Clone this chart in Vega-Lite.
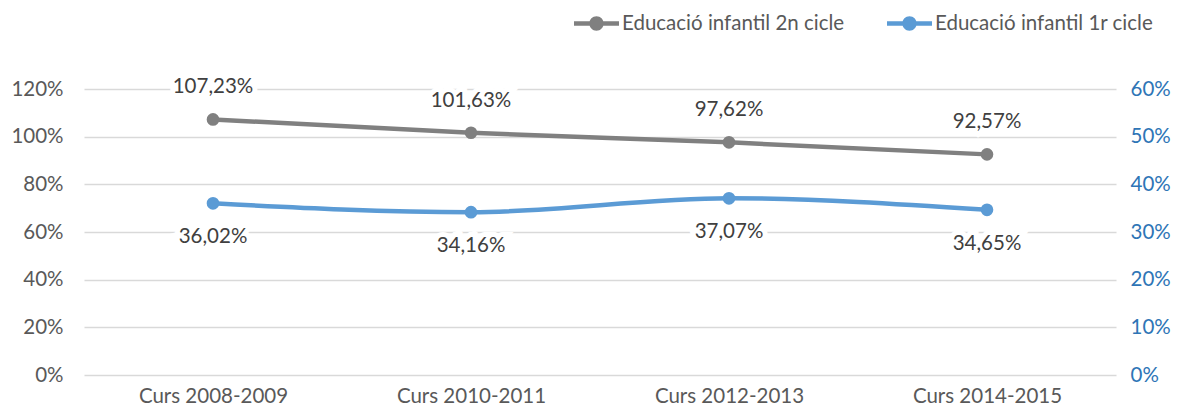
{
  "$schema": "https://vega.github.io/schema/vega-lite/v6.json",
  "width": 1032,
  "height": 286,
  "autosize": {"type": "none"},
  "padding": {"left": 84, "top": 89, "right": 65, "bottom": 39},
  "background": "white",
  "config": {
    "view": {"stroke": null},
    "font": "Lato",
    "locale": {"number": {"decimal": ",", "thousands": ".", "grouping": [3], "currency": ["", " €"]}}
  },
  "data": {"values": [
    {"curs": "Curs 2008-2009", "c2": 1.0723, "c1": 0.3602},
    {"curs": "Curs 2010-2011", "c2": 1.0163, "c1": 0.3416},
    {"curs": "Curs 2012-2013", "c2": 0.9762, "c1": 0.3707},
    {"curs": "Curs 2014-2015", "c2": 0.9257, "c1": 0.3465}
  ]},
  "encoding": {
    "x": {"field": "curs", "type": "ordinal", "scale": {"type": "point", "padding": 0.5},
      "axis": {"title": null, "labelAngle": 0, "domain": false, "ticks": false, "labelFontSize": 20.5, "labelColor": "#595959", "labelPadding": 11}}
  },
  "layer": [
    {
      "layer": [
        {"mark": {"type": "line", "strokeWidth": 4.5, "interpolate": "monotone"}},
        {"mark": {"type": "point", "filled": true, "size": 160, "opacity": 1}},
        {"mark": {"type": "text", "dy": -32, "fontSize": 20.5, "stroke": "white", "strokeWidth": 10, "fill": "white"}, "encoding": {"text": {"field": "c2", "type": "quantitative", "format": ".2%"}, "color": {"value": "white"}}},
        {"mark": {"type": "text", "dy": -32, "fontSize": 20.5, "fill": "#404040"}, "encoding": {"text": {"field": "c2", "type": "quantitative", "format": ".2%"}, "color": {"value": "#404040"}}}
      ],
      "encoding": {
        "y": {"field": "c2", "type": "quantitative", "scale": {"domain": [0, 1.2]},
          "axis": {"title": null, "orient": "left", "format": ".0%", "values": [0, 0.2, 0.4, 0.6, 0.8, 1.0, 1.2], "domain": false, "ticks": false, "labelFontSize": 20.5, "labelColor": "#595959", "labelPadding": 21, "grid": true, "gridColor": "#D9D9D9", "gridWidth": 1.5}},
        "color": {"datum": "Educació infantil 2n cicle", "type": "nominal",
          "scale": {"domain": ["Educació infantil 2n cicle", "Educació infantil 1r cicle"], "range": ["#808080", "#5B9BD5"]},
          "legend": {"title": null, "orient": "none", "legendX": 490, "legendY": -88, "direction": "horizontal",
            "labelFontSize": 20.5, "labelColor": "#595959", "labelOffset": 3, "columnPadding": 42, "labelLimit": 0,
            "symbolType": "M -1 -0.1 H 1 V 0.1 H -1 Z M 0.32 0 A 0.32 0.32 0 1 1 -0.32 0 A 0.32 0.32 0 1 1 0.32 0 Z",
            "symbolSize": 2025, "symbolStrokeWidth": 0,
            "encode": {"symbols": {"update": {"fill": {"scale": "color", "field": "value"}, "strokeWidth": {"value": 0}, "opacity": {"value": 1}}}}}}
      }
    },
    {
      "layer": [
        {"mark": {"type": "line", "strokeWidth": 4.5, "interpolate": "monotone"}},
        {"mark": {"type": "point", "filled": true, "size": 160, "opacity": 1}},
        {"mark": {"type": "text", "dy": 34, "fontSize": 20.5, "stroke": "white", "strokeWidth": 10, "fill": "white"}, "encoding": {"text": {"field": "c1", "type": "quantitative", "format": ".2%"}, "color": {"value": "white"}}},
        {"mark": {"type": "text", "dy": 34, "fontSize": 20.5, "fill": "#404040"}, "encoding": {"text": {"field": "c1", "type": "quantitative", "format": ".2%"}, "color": {"value": "#404040"}}}
      ],
      "encoding": {
        "y": {"field": "c1", "type": "quantitative", "scale": {"domain": [0, 0.6]},
          "axis": {"title": null, "orient": "right", "format": ".0%", "values": [0, 0.1, 0.2, 0.3, 0.4, 0.5, 0.6], "domain": false, "ticks": false, "labelFontSize": 20.5, "labelColor": "#2E75B6", "labelPadding": 14, "grid": false}},
        "color": {"datum": "Educació infantil 1r cicle", "type": "nominal"}
      }
    }
  ],
  "resolve": {"scale": {"y": "independent"}}
}
